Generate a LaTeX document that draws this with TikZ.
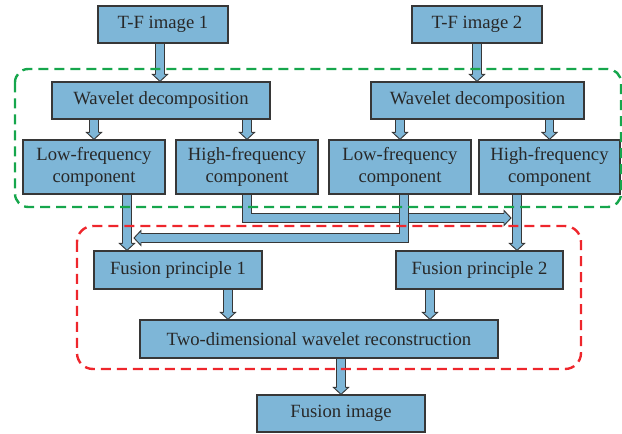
\documentclass[tikz,border=0pt]{standalone}
\usepackage{fontspec}
\setmainfont{Liberation Serif}
\usetikzlibrary{calc,backgrounds}
\definecolor{boxblue}{RGB}{126,182,215}
\definecolor{edgegray}{RGB}{55,55,55}
\definecolor{txtgray}{RGB}{40,40,40}
\definecolor{framegreen}{RGB}{22,166,76}
\definecolor{framered}{RGB}{238,38,44}
\newcommand\blkshaft[1]{%
  \draw[line width=7pt,edgegray] #1;
  \draw[line width=5.6pt,boxblue] #1;}
\newcommand\headdown[1]{\filldraw[headst] ($(#1)+(-4.5,-7)$) -- ($(#1)+(-7.5,-7)$) -- (#1) -- ($(#1)+(7.5,-7)$) -- ($(#1)+(4.5,-7)$);}
\newcommand\headright[1]{\filldraw[headst] ($(#1)+(-7,-4.5)$) -- ($(#1)+(-7,-7.5)$) -- (#1) -- ($(#1)+(-7,7.5)$) -- ($(#1)+(-7,4.5)$);}
\newcommand\headleft[1]{\filldraw[headst] ($(#1)+(7,-4.5)$) -- ($(#1)+(7,-7.5)$) -- (#1) -- ($(#1)+(7,7.5)$) -- ($(#1)+(7,4.5)$);}
\newcommand\dnarr[4][0]{%
  \coordinate (sa) at ($(#2 |- #3)+(#1,0)$);
  \coordinate (sb) at ($(#2 |- #4)+(#1,0)$);
  \blkshaft{(sa) -- ($(sb)+(0,-6.5)$)}
  \headdown{sb}}
\begin{document}
\begin{tikzpicture}[x=0.75pt,y=-0.75pt,
    box/.style={draw=edgegray,line width=0.9pt,fill=boxblue,text=txtgray,
      font=\fontsize{14}{17}\selectfont,align=center,inner sep=0pt},
    wh/.style 2 args={minimum width=#1*0.75pt,minimum height=#2*0.75pt},
    headst/.style={fill=boxblue,draw=edgegray,line width=0.7pt,line join=miter},
    grnframe/.style={draw=framegreen,line width=1.8pt,dash pattern=on 7.5pt off 4.5pt,rounded corners=10pt},
    redframe/.style={draw=framered,line width=1.8pt,dash pattern=on 7.5pt off 4.5pt,rounded corners=12pt}]
\useasboundingbox (0,0) rectangle (622,434);

\node[box,wh={130}{37}] (tf1) at (163,24.5) {T-F image 1};
\node[box,wh={130}{37}] (tf2) at (477,24.5) {T-F image 2};
\node[box,wh={218}{37}] (wd1) at (161,100.5) {Wavelet decomposition};
\node[box,wh={213}{37}] (wd2) at (477.5,100.5) {Wavelet decomposition};
\node[box,wh={142}{54}] (lf1) at (94,167) {Low-frequency\\component};
\node[box,wh={142}{54}] (hf1) at (247,167) {High-frequency\\component};
\node[box,wh={142}{54}] (lf2) at (400,167) {Low-frequency\\component};
\node[box,wh={141}{54}] (hf2) at (549.5,167) {High-frequency\\component};
\node[box,wh={168}{38}] (fp1) at (178,270) {Fusion principle 1};
\node[box,wh={167}{38}] (fp2) at (479.5,270) {Fusion principle 2};
\node[box,wh={358}{38}] (rec) at (319,339) {Two-dimensional wavelet reconstruction};
\node[box,wh={168}{37}] (fus) at (341,413.5) {Fusion image};

\coordinate (hj) at (511,218);
\coordinate (lj) at (134,238);

\begin{scope}[on background layer]
  \dnarr[-3]{tf1}{tf1.south}{wd1.north}
  \dnarr{tf2}{tf2.south}{wd2.north}
  \dnarr{lf1}{wd1.south}{lf1.north}
  \dnarr{hf1}{wd1.south}{hf1.north}
  \dnarr{lf2}{wd2.south}{lf2.north}
  \dnarr{hf2}{wd2.south}{hf2.north}
  \dnarr[33]{lf1}{lf1.south}{fp1.north}
  \dnarr[-32.5]{hf2}{hf2.south}{fp2.north}
  \dnarr[50]{fp1}{fp1.south}{rec.north}
  \dnarr[-49.5]{fp2}{fp2.south}{rec.north}
  \dnarr{fus}{rec.south}{fus.north}
  \blkshaft{(hf1.south) |- ($(hj)+(-6.5,0)$)}
  \headright{hj}
  \blkshaft{($(lf2.south)+(4,0)$) |- ($(lj)+(6.5,0)$)}
  \headleft{lj}
\end{scope}

\draw[grnframe] (15,69) rectangle (621,207);
\draw[redframe] (77,226) rectangle (581,369);
\end{tikzpicture}
\end{document}
